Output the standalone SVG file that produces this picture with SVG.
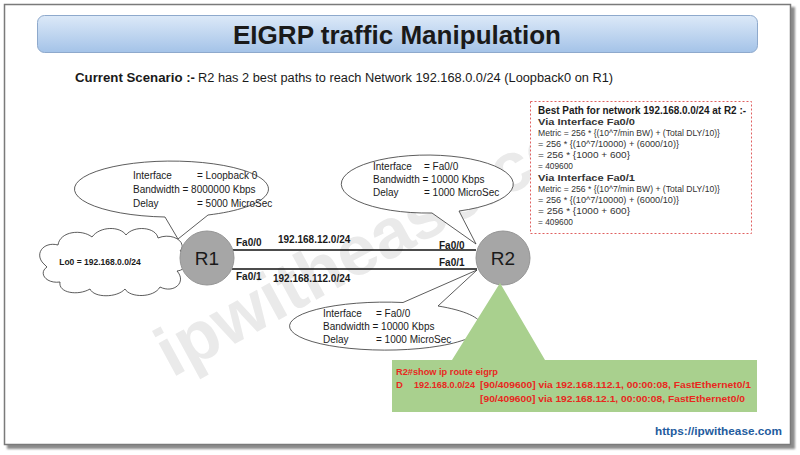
<svg xmlns="http://www.w3.org/2000/svg" width="800" height="455" viewBox="0 0 800 455">
<defs>
<linearGradient id="tg" x1="0" y1="0" x2="0" y2="1">
<stop offset="0" stop-color="#dce9f8"/>
<stop offset="1" stop-color="#a4c3e8"/>
</linearGradient>
<filter id="blur" x="-5%" y="-5%" width="110%" height="110%"><feGaussianBlur stdDeviation="1.2"/></filter>
</defs>
<style>
text{font-family:"Liberation Sans",Arial,sans-serif;fill:#1a1a1a}
.b{font-weight:bold}
.cal{font-size:10px}
.lbl{font-size:10px;font-weight:bold}
.mx{font-size:9px;fill:#333}
.rt{font-size:9.5px;font-weight:bold;fill:#e8281e}
.callout{fill:#fff;stroke:#333;stroke-width:0.8}
.router{fill:#a6a6a6;stroke:#959595;stroke-width:1}
.link{stroke:#111;stroke-width:1.3}
</style>
<rect width="800" height="455" fill="#fff"/>
<g id="frame">
<rect x="7" y="7" width="788" height="442" fill="#8c8c8c" filter="url(#blur)"/>
<rect x="4.5" y="4.5" width="786" height="440" fill="#fff" stroke="#7a7a7a" stroke-width="1.5"/>
</g>
<text x="172" y="378" transform="rotate(-28.5 172 378)" style="font-size:70px;font-weight:bold;fill:#eaeaea">ipwithease.com</text>
<g id="title">
<rect x="37.5" y="15.5" width="720" height="37" rx="7" fill="url(#tg)" stroke="#8ea9cc" stroke-width="1"/>
<text x="397" y="44" text-anchor="middle" class="b" style="font-size:26px" textLength="328" lengthAdjust="spacingAndGlyphs">EIGRP traffic Manipulation</text>
</g>
<g id="subtitle">
<text x="75" y="82" style="font-size:12.5px"><tspan class="b" textLength="120" lengthAdjust="spacingAndGlyphs">Current Scenario :-</tspan></text>
<text x="198" y="82" style="font-size:12.5px" textLength="415" lengthAdjust="spacingAndGlyphs">R2 has 2 best paths to reach Network 192.168.0.0/24  (Loopback0 on R1)</text>
</g>
<g id="connectors">
<line class="link" x1="233" y1="250" x2="476" y2="250"/>
<line class="link" x1="232" y1="269" x2="477" y2="269"/>
<text class="lbl" x="236" y="246">Fa0/0</text>
<text class="lbl" x="278" y="243">192.168.12.0/24</text>
<text class="lbl" x="439" y="249">Fa0/0</text>
<text class="lbl" x="236" y="280">Fa0/1</text>
<text class="lbl" x="273" y="282">192.168.112.0/24</text>
<text class="lbl" x="439" y="266">Fa0/1</text>
</g>
<g id="lo0">
<path d="M45,265 C33,255 43,241 58,245 C60,231 82,229 92,237 C100,226 120,226 126,235 C134,225 156,227 158,238 C172,232 188,242 180,251 C190,257 188,270 177,271 C187,282 174,294 160,287 C154,298 130,298 125,289 C117,298 94,298 90,289 C78,296 58,293 60,282 C46,284 38,273 47,267 Z" fill="#fff" stroke="#333" stroke-width="0.8"/>
<text x="100" y="265" text-anchor="middle" class="b" style="font-size:8.5px">Lo0 = 192.168.0.0/24</text>
</g>
<g id="r1">
<circle class="router" cx="207" cy="258" r="27"/>
<text x="207" y="265" text-anchor="middle" style="font-size:19px">R1</text>
</g>
<g id="r2">
<circle class="router" cx="503" cy="258" r="27"/>
<text x="503" y="265" text-anchor="middle" style="font-size:19px">R2</text>
</g>
<g id="callout-lo0">
<path class="callout" d="M165,217 A97,28 0 1 1 208,215 L178,239 Z"/>
<text class="cal" x="133" y="179">Interface</text><text class="cal" x="197" y="179">= Loopback 0</text>
<text class="cal" x="133" y="193">Bandwidth = 8000000 Kbps</text>
<text class="cal" x="133" y="207">Delay</text><text class="cal" x="197" y="207">= 5000 MicroSec</text>
</g>
<g id="callout-fa00">
<path class="callout" d="M432,213 A86,29 0 1 1 459,211 L476,244 Z"/>
<text class="cal" x="373" y="170">Interface</text><text class="cal" x="424" y="170">= Fa0/0</text>
<text class="cal" x="373" y="183">Bandwidth = 10000 Kbps</text>
<text class="cal" x="373" y="196">Delay</text><text class="cal" x="424" y="196">= 1000 MicroSec</text>
</g>
<g id="callout-fa01">
<path class="callout" d="M438,306 A96,24 0 1 1 403,302.5 L477,270 Z"/>
<text class="cal" x="323" y="317">Interface</text><text class="cal" x="376" y="317">= Fa0/0</text>
<text class="cal" x="323" y="330">Bandwidth = 10000 Kbps</text>
<text class="cal" x="323" y="343">Delay</text><text class="cal" x="376" y="343">= 1000 MicroSec</text>
</g>
<g id="metric-box">
<rect x="530.5" y="101.5" width="221" height="132" fill="#fff" stroke="#e06060" stroke-width="1" stroke-dasharray="2,2"/>
<text x="538" y="114" class="b" style="font-size:11px" textLength="208" lengthAdjust="spacingAndGlyphs">Best Path for network 192.168.0.0/24 at R2 :-</text>
<text x="538" y="125" class="mx b" textLength="97" lengthAdjust="spacingAndGlyphs">Via Interface Fa0/0</text>
<text x="538" y="136" class="mx" textLength="182" lengthAdjust="spacingAndGlyphs">Metric = 256 * {(10^7/min BW) + (Total DLY/10)}</text>
<text x="538" y="147" class="mx" textLength="141" lengthAdjust="spacingAndGlyphs">= 256 * {(10^7/10000) + (6000/10)}</text>
<text x="538" y="158" class="mx" textLength="92" lengthAdjust="spacingAndGlyphs">= 256 * {1000 + 600}</text>
<text x="538" y="169" class="mx" textLength="35" lengthAdjust="spacingAndGlyphs">= 409600</text>
<text x="538" y="181" class="mx b" textLength="97" lengthAdjust="spacingAndGlyphs">Via Interface Fa0/1</text>
<text x="538" y="192" class="mx" textLength="182" lengthAdjust="spacingAndGlyphs">Metric = 256 * {(10^7/min BW) + (Total DLY/10)}</text>
<text x="538" y="203" class="mx" textLength="141" lengthAdjust="spacingAndGlyphs">= 256 * {(10^7/10000) + (6000/10)}</text>
<text x="538" y="214" class="mx" textLength="92" lengthAdjust="spacingAndGlyphs">= 256 * {1000 + 600}</text>
<text x="538" y="225" class="mx" textLength="35" lengthAdjust="spacingAndGlyphs">= 409600</text>
</g>
<g id="route-output">
<path d="M392,360 H452 L500,283 L545,360 H757 V412 H392 Z" fill="#a9d08e"/>
<text x="396" y="375" class="rt" textLength="102" lengthAdjust="spacingAndGlyphs">R2#show ip route eigrp</text>
<text x="396" y="388" class="rt">D</text>
<text x="414" y="388" class="rt" textLength="61" lengthAdjust="spacingAndGlyphs">192.168.0.0/24</text>
<text x="480" y="388" class="rt" textLength="271" lengthAdjust="spacingAndGlyphs">[90/409600] via 192.168.112.1, 00:00:08, FastEthernet0/1</text>
<text x="480" y="402" class="rt" textLength="265" lengthAdjust="spacingAndGlyphs">[90/409600] via 192.168.12.1, 00:00:08, FastEthernet0/0</text>
</g>
<text x="782" y="435" text-anchor="end" class="b" style="font-size:11px;fill:#1f5c9e" textLength="127" lengthAdjust="spacingAndGlyphs">https://ipwithease.com</text>
</svg>
